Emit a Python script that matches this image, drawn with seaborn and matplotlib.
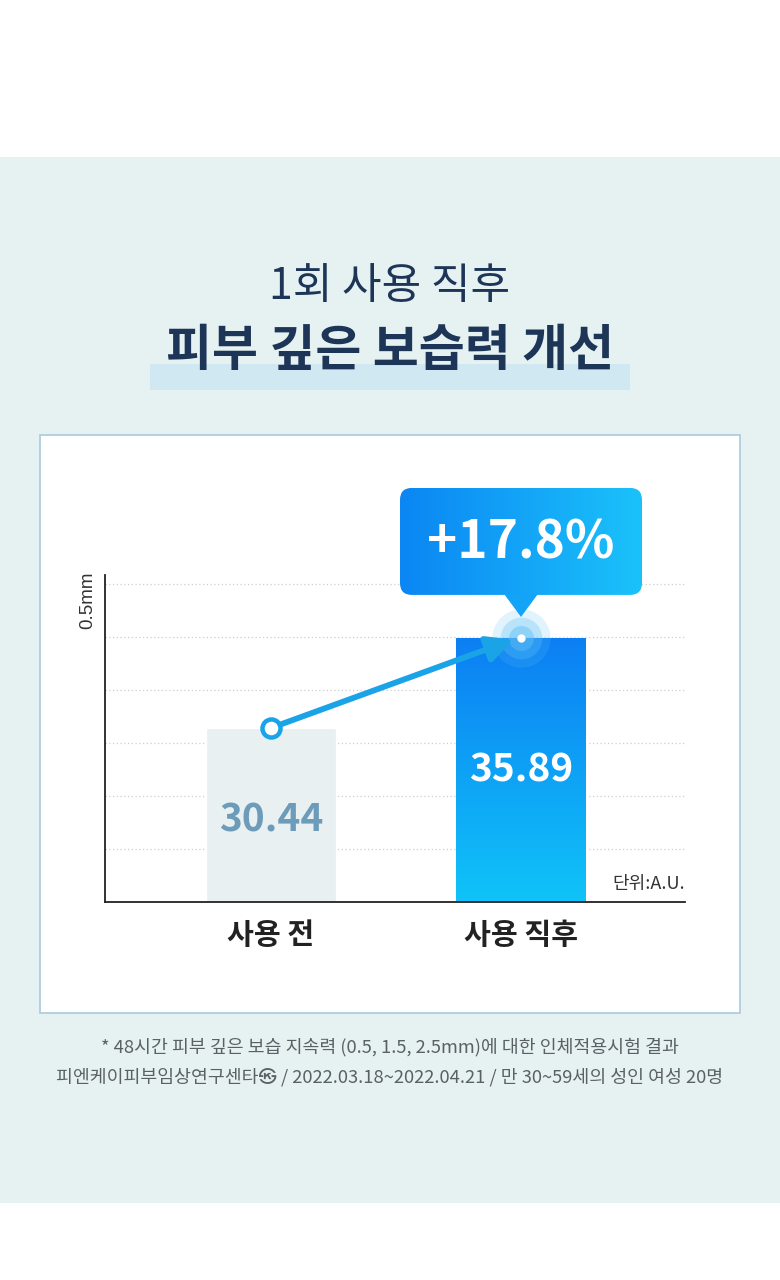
import numpy as np
import pandas as pd
import matplotlib
matplotlib.use("Agg")
import matplotlib.pyplot as plt
import seaborn as sns
from matplotlib.patches import Rectangle, FancyBboxPatch, Polygon
from matplotlib.colors import LinearSegmentedColormap

# données
categories = ["사용 전", "사용 직후"]
values = [30.44, 35.89]
value_labels = ["30.44", "35.89"]
increase_label = "+17.8%"
title_top = "1회 사용 직후"
title_main = "피부 깊은 보습력 개선"
unit_label = "단위:A.U."
y_label = "0.5mm"
footnotes = [
    "* 48시간 피부 깊은 보습 지속력 (0.5, 1.5, 2.5mm)에 대한 인체적용시험 결과",
    "피엔케이피부임상연구센타㉿ / 2022.03.18~2022.04.21 / 만 30~59세의 성인 여성 20명",
]

sns.set_theme(style="white")
plt.rcParams["font.family"] = ["Noto Sans CJK KR", "DejaVu Sans"]

W, H = 780, 1280
fig = plt.figure(figsize=(W / 100, H / 100), dpi=100, facecolor="white")

# ------------------------------------------------------------------
# FOND (coordonnées pixels)
# ------------------------------------------------------------------
bg = fig.add_axes([0, 0, 1, 1], zorder=0)
bg.set_xlim(0, W)
bg.set_ylim(H, 0)
bg.axis("off")
bg.add_patch(Rectangle((0, 157), W, 1046, color="#e6f1f2", lw=0))
bg.add_patch(Rectangle((40, 435), 700, 578, facecolor="white",
                       edgecolor="#a9c9dd", lw=1.2))
bg.add_patch(Rectangle((150, 364), 480, 26, color="#d0e8f2", lw=0))

bg.text(390, 287, title_top, ha="center", va="center", fontsize=31,
        color="#1d3556")
bg.text(390, 352, title_main, ha="center", va="center", fontsize=36,
        fontweight="heavy", color="#1d3556")
for i, line in enumerate(footnotes):
    bg.text(390, 1047 + 30 * i, line, ha="center", va="center",
            fontsize=13.2, color="#5a6166")

# ------------------------------------------------------------------
# GRAPHIQUE
# ------------------------------------------------------------------
y_lo, y_hi = 19.9, 39.7
ax = fig.add_axes([105 / W, 1 - 902 / H, 580 / W, 327 / H], zorder=1)
ax.patch.set_alpha(0)

df = pd.DataFrame({"cat": categories, "val": values})
sns.barplot(data=df, x="cat", y="val", order=categories, width=0.52,
            color="#e6f1f3", ax=ax, zorder=2)
ax.set_xlim(-0.664, 1.656)
ax.set_ylim(y_lo, y_hi)

# grille pointillée
for g in y_lo + 3.21 * np.arange(1, 7):
    ax.axhline(g, color="#cfcfcf", lw=0.9, ls=(0, (1, 2)), zorder=1)

# dégradé sur la 2e barre
cmap_bar = LinearSegmentedColormap.from_list("bar", ["#10c3f8", "#0c7ff3"])
bars = ax.patches
b = bars[1]
x0, w = b.get_x(), b.get_width()
grad = np.linspace(0, 1, 256).reshape(-1, 1)
im = ax.imshow(grad, cmap=cmap_bar, origin="lower", aspect="auto",
               extent=[x0, x0 + w, y_lo, values[1]], zorder=2.5)
im.set_clip_path(b)
ax.set_xlim(-0.664, 1.656)
ax.set_ylim(y_lo, y_hi)

for s in ["top", "right"]:
    ax.spines[s].set_visible(False)
for s in ["left", "bottom"]:
    ax.spines[s].set_color("#222222")
    ax.spines[s].set_linewidth(1.3)
ax.set_yticks([])
ax.tick_params(axis="x", length=0, pad=13)
ax.set_xticks(range(len(categories)))
ax.set_xticklabels(categories, fontsize=21, fontweight="bold", color="#222222")
ax.set_xlabel("")
ax.set_ylabel("")

# valeurs dans les barres
label_pos = [0.47, 0.50]
label_col = ["#6d9cba", "white"]
for i, v in enumerate(values):
    ax.text(i, y_lo + (v - y_lo) * label_pos[i], value_labels[i],
            ha="center", va="center", fontsize=28, fontweight="bold",
            color=label_col[i], zorder=4)

ax.text(-0.029, 0.924, y_label, transform=ax.transAxes, rotation=90,
        ha="center", va="center", fontsize=13.5, color="#333333",
        family=["Liberation Sans", "DejaVu Sans"])
ax.text(1.0, 0.055, unit_label, transform=ax.transAxes, ha="right",
        va="center", fontsize=13, color="#333333")

# flèche + points
line_col = "#1ba3e8"
ax.annotate("", xy=(1 - 0.03, values[1] - 0.1), xytext=(0, values[0]),
            arrowprops=dict(arrowstyle="-|>,head_length=1.3,head_width=0.65",
                            color=line_col, lw=4.2, shrinkA=6, shrinkB=0),
            zorder=5)
for ms, a in [(42, 0.18), (30, 0.3), (18, 0.45)]:
    ax.plot(1, values[1], "o", ms=ms, color="#5cc0f5", alpha=a,
            mec="none", clip_on=False, zorder=4)
ax.plot(1, values[1], "o", ms=6, color="white", mec="none",
        clip_on=False, zorder=6)
ax.plot(0, values[0], "o", ms=13, mfc="white", mec=line_col, mew=3.2,
        clip_on=False, zorder=6)

# ------------------------------------------------------------------
# BULLE +17.8%
# ------------------------------------------------------------------
ov = fig.add_axes([0, 0, 1, 1], zorder=3)
ov.set_xlim(0, W)
ov.set_ylim(H, 0)
ov.axis("off")
fig.canvas.draw()
px, py = ax.transData.transform((1, values[1]))
py = H - py
bx0, bx1, by0, by1 = px - 121, px + 121, py - 150, py - 43
box = FancyBboxPatch((bx0 + 12, by0 + 12), bx1 - bx0 - 24, by1 - by0 - 24,
                     boxstyle="round,pad=12", facecolor="none",
                     edgecolor="none")
ov.add_patch(box)
cmap_box = LinearSegmentedColormap.from_list("box", ["#0b86f3", "#1bc2fa"])
gim = ov.imshow(np.linspace(0, 1, 256).reshape(1, -1), cmap=cmap_box,
                aspect="auto", extent=[bx0, bx1, by1, by0], zorder=3)
gim.set_clip_path(box)
ov.add_patch(Polygon([[px - 17, by1 - 1], [px + 17, by1 - 1], [px, py - 21]],
                     closed=True, color="#13a3f7", lw=0, zorder=3))
ov.set_xlim(0, W)
ov.set_ylim(H, 0)
ov.text(px, (by0 + by1) / 2 + 2, increase_label, ha="center", va="center",
        fontsize=37, fontweight="bold", color="white", zorder=4)

fig.savefig("out.png", dpi=100, facecolor="white")
